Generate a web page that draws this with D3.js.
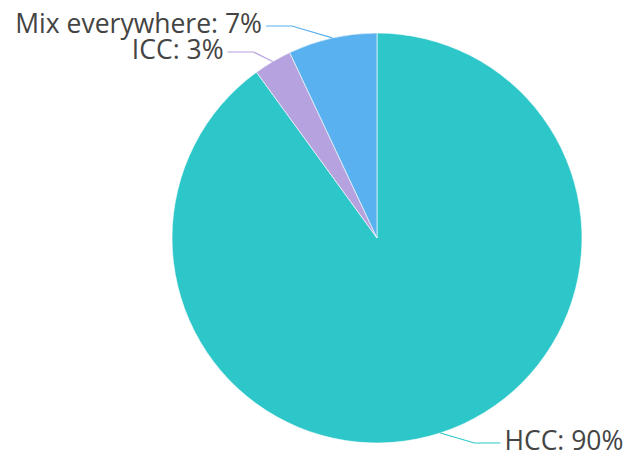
<!DOCTYPE html>
<html>
<head>
<meta charset="utf-8">
<script src="https://cdn.jsdelivr.net/npm/d3@7"></script>
<style>
  body { margin: 0; background: #fff; }
  text { font-family: "Open Sans", "Noto Sans", sans-serif; }
</style>
</head>
<body>
<svg id="chart" width="624" height="457"></svg>
<script>
// chart data
const categories = ['HCC', 'ICC', 'Mix everywhere'];
const shares = [90, 3, 7];
const colors = ['#2ec7c9', '#b6a2de', '#5ab1ef'];

const width = 624, height = 457;
const cx = 377, cy = 238, radius = 205;
// leader lines bend on an ellipse round the pie
const bendRx = 205, bendRy = 233;
const hLen = 26, textGap = 4, minGap = 26;
const yMin = 26, yMax = 443;

const svg = d3.select('#chart');
const g = svg.append('g').attr('transform', 'translate(' + cx + ',' + cy + ')');

const data = categories.map((c, i) => ({ name: c, value: shares[i], color: colors[i] }));
const pie = d3.pie().sort(null).value(d => d.value);
const arcs = pie(data);
const arc = d3.arc().innerRadius(0).outerRadius(radius);

g.selectAll('path.slice')
  .data(arcs)
.join('path')
  .attr('class', 'slice')
  .attr('d', arc)
  .attr('fill', d => d.data.color)
  .attr('stroke', '#fff')
  .attr('stroke-width', 0.6);

// label layout: start radial, clamp to bounds, push apart
const labels = arcs.map(d => {
  const a = (d.startAngle + d.endAngle) / 2;
  return {
    d: d,
    side: Math.sin(a) >= 0 ? 1 : -1,
    ex: Math.sin(a) * radius,
    ey: -Math.cos(a) * radius,
    y: -Math.cos(a) * bendRy
  };
});
[1, -1].forEach(side => {
  const list = labels.filter(l => l.side === side).sort((p, q) => p.y - q.y);
  list.forEach(l => { l.y = Math.max(yMin - cy, Math.min(yMax - cy, l.y)); });
  for (let i = 1; i < list.length; i++) {
    if (list[i].y - list[i - 1].y < minGap) list[i].y = list[i - 1].y + minGap;
  }
  for (let i = list.length - 2; i >= 0; i--) {
    if (list[i + 1].y - list[i].y < minGap) list[i].y = list[i + 1].y - minGap;
  }
});
labels.forEach(l => {
  const t = Math.min(1, (l.y * l.y) / (bendRy * bendRy));
  l.bx = l.side * Math.sqrt(1 - t) * bendRx;
  l.tx = l.bx + l.side * hLen;
});

g.selectAll('path.leader')
  .data(labels)
.join('path')
  .attr('class', 'leader')
  .attr('fill', 'none')
  .attr('stroke', l => l.d.data.color)
  .attr('stroke-width', 1.2)
  .attr('d', l => d3.line()([[l.ex, l.ey], [l.bx, l.y], [l.tx, l.y]]));

g.selectAll('text.label')
  .data(labels)
.join('text')
  .attr('class', 'label')
  .attr('x', l => l.tx + l.side * textGap)
  .attr('y', l => l.y)
  .attr('dy', '0.28em')
  .attr('text-anchor', l => l.side > 0 ? 'start' : 'end')
  .attr('fill', '#444')
  .attr('font-size', 26.5)
  .text(l => l.d.data.name + ': ' + l.d.data.value + '%');
</script>
</body>
</html>
